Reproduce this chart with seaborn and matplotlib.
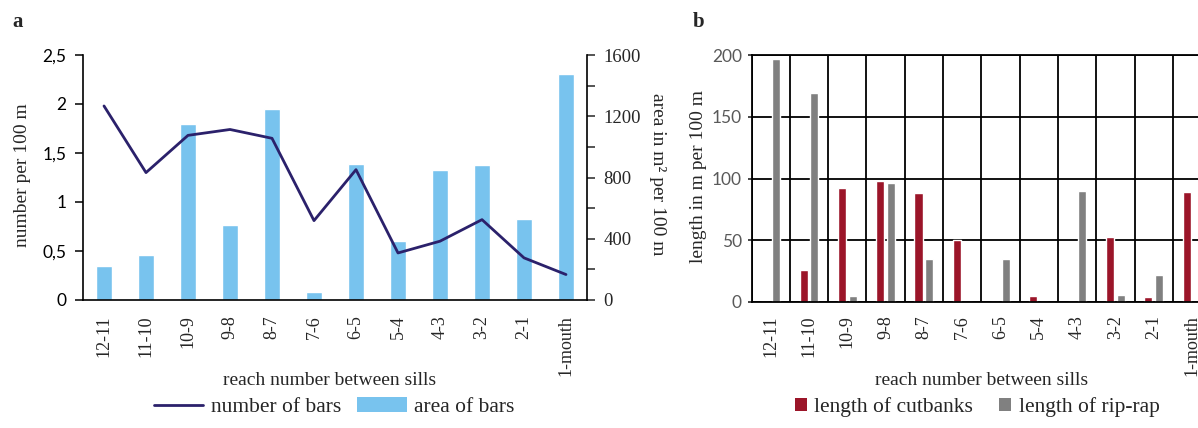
import numpy as np
import pandas as pd
import matplotlib
matplotlib.use("Agg")
import matplotlib.pyplot as plt
from matplotlib.lines import Line2D
from matplotlib.patches import Patch
from matplotlib.ticker import MultipleLocator, FixedLocator
import seaborn as sns

# ---------------- data ----------------
reaches = ["12-11", "11-10", "10-9", "9-8", "8-7", "7-6", "6-5", "5-4",
           "4-3", "3-2", "2-1", "1-mouth"]
number_of_bars = [1.98, 1.30, 1.68, 1.74, 1.65, 0.81, 1.33, 0.48, 0.60, 0.82, 0.43, 0.26]
area_of_bars = [225, 295, 1150, 490, 1250, 50, 890, 385, 850, 880, 530, 1475]
cutbanks = [0, 26, 92, 98, 88, 50, 0, 5, 0, 53, 4, 89]
riprap = [197, 169, 5, 96, 35, 0, 35, 0, 90, 6, 22, 0]

left_yticks = [0, 0.5, 1, 1.5, 2, 2.5]
left_yticklabels = ["0", "0,5", "1", "1,5", "2", "2,5"]
area_yticks = [0, 400, 800, 1200, 1600]
length_yticks = [0, 50, 100, 150, 200]

# ---------------- style ----------------
sns.set_style("ticks")
plt.rcParams["font.family"] = ["Liberation Serif", "DejaVu Serif"]
SANS = ["Lato", "DejaVu Sans"]
SERIF = ["Liberation Serif", "DejaVu Serif"]

BLUE = "#78C3EE"
NAVY = "#2B216B"
RED = "#9B1529"
GREY = "#808080"

W, H = 1198, 428
fig = plt.figure(figsize=(W / 100, H / 100), dpi=100)

def frac_rect(x0, y0, x1, y1):
    return [x0 / W, 1 - y1 / H, (x1 - x0) / W, (y1 - y0) / H]

# ---------------- panel a ----------------
ax = fig.add_axes(frac_rect(83, 55, 587, 300))
ax2 = ax.twinx()

sns.lineplot(x=reaches, y=number_of_bars, sort=False, color=NAVY,
             linewidth=2.0, ax=ax)
sns.barplot(x=reaches, y=area_of_bars, color=BLUE, width=0.4,
            errorbar=None, saturation=1, ax=ax2)

ax.set_zorder(ax2.get_zorder() + 1)
ax.patch.set_visible(False)

ax.set_xlim(-0.5, 11.5)
ax.set_ylim(0, 2.5)
ax2.set_ylim(0, 1600)

ax.set_yticks(left_yticks)
ax.set_yticklabels(left_yticklabels, fontfamily=SANS, fontsize=12.5)
ax.tick_params(axis="y", length=6, width=1.1, pad=6, colors="black")

ax2.yaxis.set_major_locator(FixedLocator(area_yticks))
ax2.yaxis.set_minor_locator(MultipleLocator(200))
ax2.set_yticklabels([str(v) for v in area_yticks], fontfamily=SERIF, fontsize=13.5)
ax2.tick_params(axis="y", which="both", length=6, width=1.1, pad=6)

ax.set_xticks(range(len(reaches)))
ax.set_xticklabels(reaches, rotation=90, fontfamily=SERIF, fontsize=13)
ax.tick_params(axis="x", length=0, pad=11)

for a in (ax, ax2):
    for s in a.spines.values():
        s.set_linewidth(1.2)
        s.set_color("black")
    a.spines["top"].set_visible(False)
ax.spines["right"].set_visible(False)
ax2.spines["left"].set_visible(False)
ax2.spines["bottom"].set_visible(False)

ax.set_ylabel("number per 100 m", fontsize=14, va="center", ha="center")
ax.yaxis.set_label_coords(-0.121, 0.51)
ax2.set_ylabel("area in m² per 100 m", fontsize=14, rotation=-90,
               va="center", ha="center")
ax2.yaxis.set_label_coords(1.139, 0.512)
ax.set_xlabel("reach number between sills", fontsize=14, va="center")
ax.xaxis.set_label_coords(0.49, -0.327)
ax2.set_xlabel("")

fig.legend(handles=[Line2D([], [], color=NAVY, lw=2.0),
                    Patch(facecolor=BLUE, edgecolor="none")],
           labels=["number of bars", "area of bars"],
           loc="center", bbox_to_anchor=(334 / W, 1 - 407 / H),
           ncol=2, frameon=False, fontsize=15.5, handlelength=2.3,
           handleheight=0.7, handletextpad=0.35, columnspacing=0.75)

fig.text(12 / W, 1 - 22 / H, "a", fontsize=15, fontweight="bold",
         ha="left", va="center")

# ---------------- panel b ----------------
axb = fig.add_axes(frac_rect(751.5, 55, 751.5 + 12 * 38.3, 302))
df = pd.DataFrame({
    "reach": reaches * 2,
    "length": cutbanks + riprap,
    "type": ["length of cutbanks"] * len(reaches) + ["length of rip-rap"] * len(reaches),
})
sns.barplot(data=df, x="reach", y="length", hue="type",
            palette=[RED, GREY], width=0.56, gap=0.25, errorbar=None,
            saturation=1, legend=False, ax=axb)
axb.set_xlim(-0.5, 11.5)
axb.set_ylim(0, 200)
axb.set_yticks(length_yticks)
axb.set_yticklabels([str(v) for v in length_yticks], fontfamily=SANS,
                    fontsize=12.5, color="#595959")
axb.tick_params(axis="y", length=3, width=1.2, pad=4)
axb.set_xticks(range(len(reaches)))
axb.set_xticklabels(reaches, rotation=90, fontfamily=SERIF, fontsize=13)
axb.tick_params(axis="x", length=0, pad=9.5)
axb.xaxis.set_minor_locator(FixedLocator(np.arange(-0.5, 12, 1)))
axb.tick_params(axis="x", which="minor", length=0)
axb.set_axisbelow(True)
axb.grid(True, axis="y", which="major", color="black", linewidth=1.3)
axb.grid(True, axis="x", which="minor", color="black", linewidth=1.3)
axb.grid(False, axis="x", which="major")
for s in axb.spines.values():
    s.set_linewidth(1.3)
    s.set_color("black")
axb.spines["right"].set_visible(False)

axb.set_ylabel("length in m per 100 m", fontsize=14, va="center", ha="center")
axb.yaxis.set_label_coords(-0.1164, 0.51)
axb.set_xlabel("reach number between sills", fontsize=14, va="center")
axb.xaxis.set_label_coords(0.5, -0.316)

fig.legend(handles=[Patch(facecolor=RED, edgecolor="none"),
                    Patch(facecolor=GREY, edgecolor="none")],
           labels=["length of cutbanks", "length of rip-rap"],
           loc="center", bbox_to_anchor=(977 / W, 1 - 407 / H),
           ncol=2, frameon=False, fontsize=15.5, handlelength=0.56,
           handleheight=0.56, handletextpad=0.35, columnspacing=1.2)

fig.text(693 / W, 1 - 22 / H, "b", fontsize=15, fontweight="bold",
         ha="left", va="center")

fig.savefig("out.png", dpi=100)
